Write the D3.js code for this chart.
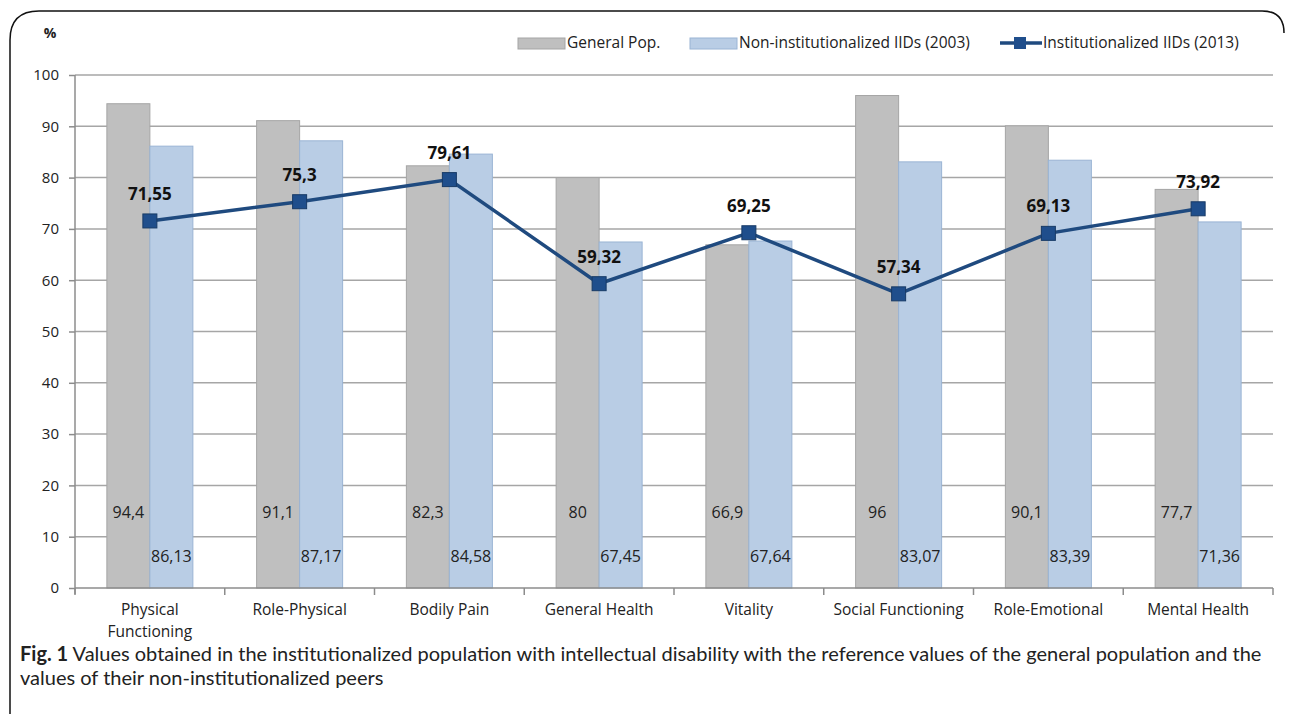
<!DOCTYPE html>
<html>
<head>
<meta charset="utf-8">
<script src="https://cdn.jsdelivr.net/npm/d3@7"></script>
<style>
  body { margin: 0; background: #fff; }
  svg { display: block; font-family: "Open Sans", "DejaVu Sans", sans-serif; }
  .tick text { font-size: 15px; fill: #222; }
  .valueLabel { font-size: 16px; fill: #222; }
  .xLabel { font-size: 15.5px; fill: #222; }
  .lineLabel { font-size: 17px; font-weight: bold; fill: #111; }
  .legendText { font-size: 15.5px; fill: #222; }
  .caption { font-family: Lato, sans-serif; font-size: 20px; fill: #222; }
</style>
</head>
<body>
<div id="chart"></div>
<script>
const categories = ['Physical Functioning', 'Role-Physical', 'Bodily Pain', 'General Health',
  'Vitality', 'Social Functioning', 'Role-Emotional', 'Mental Health'];
const generalPop = [94.4, 91.1, 82.3, 80, 66.9, 96, 90.1, 77.7];
const nonInstitutionalized = [86.13, 87.17, 84.58, 67.45, 67.64, 83.07, 83.39, 71.36];
const institutionalized = [71.55, 75.3, 79.61, 59.32, 69.25, 57.34, 69.13, 73.92];
const yTicks = [0, 10, 20, 30, 40, 50, 60, 70, 80, 90, 100];
const seriesNames = ['General Pop.', 'Non-institutionalized IIDs (2003)', 'Institutionalized IIDs (2013)'];

const width = 1292;
const height = 714;
const margins = { top: 75, bottom: 126, left: 75, right: 19 };

const grayFill = '#bfbfbf';
const grayStroke = '#a5a5a5';
const blueFill = '#b9cde5';
const blueStroke = '#9ab4d4';
const lineColor = '#1f4a7f';

const fmt = (v) => String(v).replace('.', ',');

const svg = d3.select('#chart').append('svg')
  .attr('width', width)
  .attr('height', height);

// frame round the figure
svg.append('path')
  .attr('d', `M10,${height} L10,40 Q10,11 39,11 L1262,11 Q1284,11 1284,33`)
  .style('fill', 'none')
  .style('stroke', '#111')
  .style('stroke-width', 1.5);

const xScale = d3.scaleBand()
  .domain(categories)
  .range([margins.left, width - margins.right]);

const yScale = d3.scaleLinear()
  .domain([0, 100])
  .range([height - margins.bottom, margins.top]);

const barWidth = 43;

// gridlines
svg.append('g')
  .selectAll('line')
  .data(yTicks.filter((d) => d > 0))
  .join('line')
  .attr('x1', margins.left)
  .attr('x2', width - margins.right)
  .attr('y1', (d) => yScale(d))
  .attr('y2', (d) => yScale(d))
  .style('stroke', '#a6a6a6')
  .style('stroke-width', 1.5);

// y axis
const yAxis = d3.axisLeft(yScale)
  .tickValues(yTicks)
  .tickSizeInner(6)
  .tickSizeOuter(0)
  .tickPadding(10);

const yAxisG = svg.append('g')
  .attr('transform', `translate(${margins.left},0)`)
  .call(yAxis);
yAxisG.selectAll('line, path').style('stroke', '#8c8c8c').style('stroke-width', 1.5);
yAxisG.select('.domain').attr('d', `M0,${yScale(100)}V${yScale(0) + 6}`);
yAxisG.selectAll('.tick text').style('font-family', '"Open Sans", sans-serif');

svg.append('text')
  .attr('x', 50)
  .attr('y', 38)
  .attr('text-anchor', 'middle')
  .style('font-size', '14px')
  .style('font-weight', 'bold')
  .style('fill', '#222')
  .text('%');

// bars
const groups = svg.append('g')
  .selectAll('g')
  .data(categories)
  .join('g')
  .attr('transform', (d) => `translate(${xScale(d) + xScale.bandwidth() / 2},0)`);

groups.append('rect')
  .attr('x', -barWidth)
  .attr('width', barWidth)
  .attr('y', (d, i) => yScale(generalPop[i]))
  .attr('height', (d, i) => yScale(0) - yScale(generalPop[i]))
  .style('fill', grayFill)
  .style('stroke', grayStroke);

groups.append('rect')
  .attr('x', 0)
  .attr('width', barWidth)
  .attr('y', (d, i) => yScale(nonInstitutionalized[i]))
  .attr('height', (d, i) => yScale(0) - yScale(nonInstitutionalized[i]))
  .style('fill', blueFill)
  .style('stroke', blueStroke);

groups.append('text')
  .attr('class', 'valueLabel')
  .attr('x', -barWidth / 2)
  .attr('y', yScale(0) - 70)
  .attr('text-anchor', 'middle')
  .text((d, i) => fmt(generalPop[i]));

groups.append('text')
  .attr('class', 'valueLabel')
  .attr('x', barWidth / 2)
  .attr('y', yScale(0) - 26)
  .attr('text-anchor', 'middle')
  .text((d, i) => fmt(nonInstitutionalized[i]));

// x axis
const xAxisG = svg.append('g')
  .attr('transform', `translate(0,${yScale(0)})`);

xAxisG.append('line')
  .attr('x1', margins.left)
  .attr('x2', width - margins.right)
  .style('stroke', '#8c8c8c')
  .style('stroke-width', 1.5);

xAxisG.selectAll('.sep')
  .data(categories.concat(['end']))
  .join('line')
  .attr('class', 'sep')
  .attr('x1', (d, i) => margins.left + i * xScale.step())
  .attr('x2', (d, i) => margins.left + i * xScale.step())
  .attr('y1', 0)
  .attr('y2', 7)
  .style('stroke', '#8c8c8c')
  .style('stroke-width', 1.5);

const xLabels = xAxisG.selectAll('.xLabel')
  .data(categories)
  .join('text')
  .attr('class', 'xLabel')
  .attr('text-anchor', 'middle')
  .attr('x', (d) => xScale(d) + xScale.bandwidth() / 2)
  .attr('y', 27);

xLabels.each(function (d) {
  const lines = d === 'Physical Functioning' ? ['Physical', 'Functioning'] : [d];
  d3.select(this).selectAll('tspan')
    .data(lines)
    .join('tspan')
    .attr('x', xScale(d) + xScale.bandwidth() / 2)
    .attr('dy', (l, j) => (j === 0 ? 0 : 22))
    .text((l) => l);
});

// line series
const linePath = d3.line()
  .x((d, i) => xScale(categories[i]) + xScale.bandwidth() / 2)
  .y((d) => yScale(d));

svg.append('path')
  .datum(institutionalized)
  .attr('d', linePath)
  .style('fill', 'none')
  .style('stroke', lineColor)
  .style('stroke-width', 3.5);

svg.append('g')
  .selectAll('rect')
  .data(institutionalized)
  .join('rect')
  .attr('x', (d, i) => xScale(categories[i]) + xScale.bandwidth() / 2 - 7)
  .attr('y', (d) => yScale(d) - 7)
  .attr('width', 14)
  .attr('height', 14)
  .style('fill', '#1f4e8c')
  .style('stroke', '#173a66')
  .style('stroke-width', 1);

svg.append('g')
  .selectAll('text')
  .data(institutionalized)
  .join('text')
  .attr('class', 'lineLabel')
  .attr('text-anchor', 'middle')
  .attr('x', (d, i) => xScale(categories[i]) + xScale.bandwidth() / 2)
  .attr('y', (d) => yScale(d) - 21)
  .text((d) => fmt(d));

// legend
const legend = svg.append('g').attr('transform', 'translate(0,43)');

legend.append('rect')
  .attr('x', 518).attr('y', -5).attr('width', 47).attr('height', 11)
  .style('fill', grayFill).style('stroke', grayStroke);
legend.append('text').attr('class', 'legendText')
  .attr('x', 567).attr('y', 5).text(seriesNames[0]);

legend.append('rect')
  .attr('x', 690).attr('y', -5).attr('width', 47).attr('height', 11)
  .style('fill', blueFill).style('stroke', blueStroke);
legend.append('text').attr('class', 'legendText')
  .attr('x', 739).attr('y', 5).text(seriesNames[1]);

legend.append('line')
  .attr('x1', 1000).attr('x2', 1042).attr('y1', 0).attr('y2', 0)
  .style('stroke', lineColor).style('stroke-width', 3.5);
legend.append('rect')
  .attr('x', 1014).attr('y', -6).attr('width', 12).attr('height', 12)
  .style('fill', '#1f4e8c');
legend.append('text').attr('class', 'legendText')
  .attr('x', 1043).attr('y', 5).text(seriesNames[2]);

// caption
const caption = svg.append('text')
  .attr('class', 'caption')
  .attr('x', 20)
  .attr('y', 661);
caption.append('tspan').style('font-weight', 'bold').text('Fig. 1');
caption.append('tspan').text(' Values obtained in the institutionalized population with intellectual disability with the reference values of the general population and the');

svg.append('text')
  .attr('class', 'caption')
  .attr('x', 20)
  .attr('y', 685)
  .text('values of their non-institutionalized peers');
</script>
</body>
</html>
